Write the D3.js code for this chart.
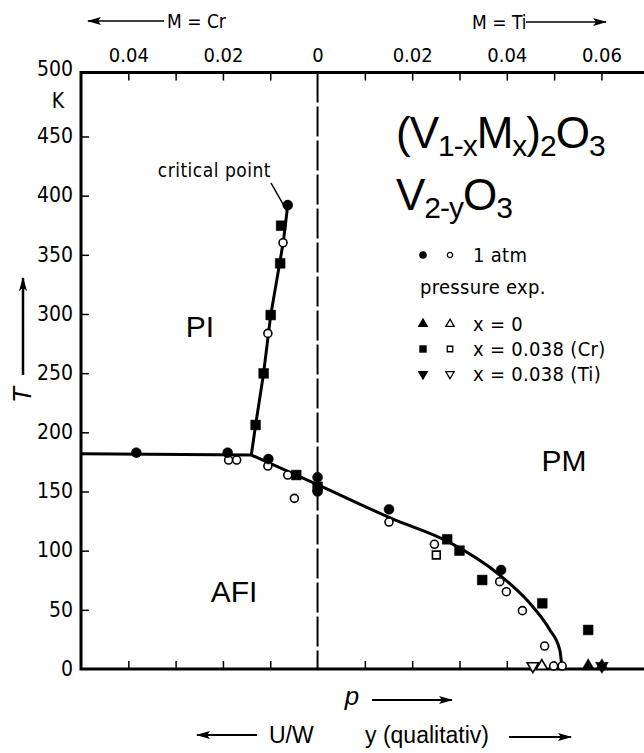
<!DOCTYPE html>
<html>
<head>
<meta charset="utf-8">
<script src="https://cdn.jsdelivr.net/npm/d3@7"></script>
<style>
  body { margin: 0; background: #fff; }
  svg { display: block; }
</style>
</head>
<body>
<svg id="chart" width="644" height="753"></svg>
<script>
// ---- data (x: composition, negative = Cr side, positive = Ti side; T in K)
const xTicks = [-0.04, -0.03, -0.02, -0.01, 0.01, 0.02, 0.03, 0.04, 0.05, 0.06];
const xTickLabels = { "-0.04": "0.04", "-0.02": "0.02", "0": "0", "0.02": "0.02", "0.04": "0.04", "0.06": "0.06" };
const tTicks = [0, 50, 100, 150, 200, 250, 300, 350, 400, 450, 500];

// phase boundaries
const piAfiLine = [[-0.05, 181.8], [-0.014, 180.8]];
const piPmLine = [[-0.014, 180.8], [-0.0131, 206], [-0.0114, 250], [-0.0099, 299],
                  [-0.008, 343], [-0.0072, 362], [-0.0063, 392]];
const afiPmLine = [[-0.014, 180.8], [0, 155.9], [0.0156, 127.3], [0.0276, 107.6],
                   [0.0385, 79.4], [0.0455, 52.6], [0.0491, 33], [0.0512, 16], [0.0517, 0]];

// measurements
const atmFilled = [[-0.0383, 182.8], [-0.019, 182.8], [-0.0104, 177.4], [0, 162],
                   [0, 150], [0.0151, 134.9], [0.0388, 83.6], [-0.0063, 392]];
const atmOpen = [[-0.0188, 176.6], [-0.0171, 176.6], [-0.0105, 171.5], [-0.0063, 163.9],
                 [-0.0049, 144.2], [-0.0073, 360.2], [-0.0105, 283.6], [0.0151, 124.2],
                 [0.0247, 105.4], [0.0385, 73.8], [0.0399, 65.3], [0.0433, 49.3],
                 [0.048, 19.4], [0.0499, 2.5], [0.0517, 2.5]];
const crFilled = [[-0.0077, 374.6], [-0.0079, 342.8], [-0.0099, 299.1], [-0.0114, 249.8],
                  [-0.0131, 206.2], [-0.0045, 163.9], [0, 154], [0.0274, 109.6],
                  [0.03, 100], [0.0348, 75.2], [0.0475, 55.5], [0.0572, 33]];
const crOpen = [[0.0251, 96.3]];
const x0Filled = [[0.0572, 2.5], [0.0601, 2.5]];
const x0Open = [[0.0474, 2.5]];
const tiFilled = [[0.0601, 2.5]];
const tiOpen = [[0.0455, 2.5]];

const legendRows = [
  { shape: "circle", text: "1 atm" },
  { shape: null, text: "pressure exp." },
  { shape: "triangle", text: "x = 0" },
  { shape: "square", text: "x = 0.038 (Cr)" },
  { shape: "down", text: "x = 0.038 (Ti)" }
];

// ---- layout
const svg = d3.select("#chart");
const narrow = "'DejaVu Sans Condensed', 'Liberation Sans Narrow', sans-serif";
const sans = "'Liberation Sans', Arial, sans-serif";

const x = d3.scaleLinear().domain([-0.05, 0.069]).range([81, 644]);
const y = d3.scaleLinear().domain([0, 500]).range([669, 77.3]);
const yTop = y(504);

// frame
svg.append("path")
  .attr("d", `M${x(0.069)},${yTop}H${x(-0.05)}V${y(0)}H${x(0.069)}`)
  .attr("fill", "none").attr("stroke", "#000").attr("stroke-width", 3);

// left axis
const gy = svg.append("g").attr("transform", `translate(${x(-0.05)},0)`)
  .call(d3.axisLeft(y).tickValues(tTicks).tickSize(-8).tickPadding(8));
gy.select(".domain").remove();
gy.selectAll(".tick line").attr("stroke-width", 1.5)
  .filter(d => d === 0 || d === 500).remove();
gy.selectAll("text").attr("font-family", narrow).attr("font-size", 21).attr("fill", "#000")
  .attr("dy", d => d === 500 ? "-0.1em" : "0.3em");

// top axis
const gt = svg.append("g").attr("transform", `translate(0,${yTop})`)
  .call(d3.axisTop(x).tickValues(xTicks.concat([0])).tickSize(-8).tickPadding(11)
    .tickFormat(d => xTickLabels[String(+d.toFixed(2))] || ""));
gt.select(".domain").remove();
gt.selectAll(".tick line").attr("stroke-width", 1.5).filter(d => d === 0).remove();
gt.selectAll("text").attr("font-family", narrow).attr("font-size", 20).attr("fill", "#000");

// bottom axis
const gb = svg.append("g").attr("transform", `translate(0,${y(0)})`)
  .call(d3.axisBottom(x).tickValues(xTicks).tickSize(-8).tickFormat(""));
gb.select(".domain").remove();
gb.selectAll(".tick line").attr("stroke-width", 1.5);

// dashed x = 0 line
svg.append("line")
  .attr("x1", x(0)).attr("x2", x(0)).attr("y1", yTop).attr("y2", y(0))
  .attr("stroke", "#000").attr("stroke-width", 2).attr("stroke-dasharray", "30,4");

// boundaries
const line = d3.line().x(d => x(d[0])).y(d => y(d[1]));
[piAfiLine, piPmLine].forEach(ln => {
  svg.append("path").datum(ln).attr("d", line)
    .attr("fill", "none").attr("stroke", "#000").attr("stroke-width", 3);
});
svg.append("path").datum(afiPmLine).attr("d", line.curve(d3.curveMonotoneX))
  .attr("fill", "none").attr("stroke", "#000").attr("stroke-width", 3);

// markers
const sym = {
  circle: d3.symbol(d3.symbolCircle, 78),
  openCircle: d3.symbol(d3.symbolCircle, 50),
  square: d3.symbol(d3.symbolSquare, 96),
  openSquare: d3.symbol(d3.symbolSquare, 60),
  triangle: d3.symbol(d3.symbolTriangle, 70),
  openTriangle: d3.symbol(d3.symbolTriangle, 55)
};
function drawPoints(data, gen, filled, rot) {
  svg.append("g").selectAll("path").data(data).join("path")
    .attr("transform", d => `translate(${x(d[0])},${y(d[1])})${rot ? " rotate(180)" : ""}`)
    .attr("d", gen)
    .attr("fill", filled ? "#000" : "#fff")
    .attr("stroke", "#000").attr("stroke-width", filled ? 0.5 : 1.6);
}
drawPoints(atmOpen, sym.openCircle, false);
drawPoints(crOpen, sym.openSquare, false);
drawPoints(x0Open, sym.openTriangle, false);
drawPoints(tiOpen, sym.openTriangle, false, true);
drawPoints(atmFilled, sym.circle, true);
drawPoints(crFilled, sym.square, true);
drawPoints(x0Filled, sym.triangle, true);
drawPoints(tiFilled, sym.triangle, true, true);

// critical point label
svg.append("line").attr("x1", 271).attr("y1", 183).attr("x2", x(-0.0066)).attr("y2", y(388))
  .attr("stroke", "#000").attr("stroke-width", 1.5);
svg.append("text").attr("x", 271).attr("y", 177).attr("text-anchor", "end")
  .attr("font-family", narrow).attr("font-size", 19).attr("letter-spacing", 0.5)
  .text("critical point");

// phase labels
[["PI", 200, 337], ["PM", 564, 471], ["AFI", 234, 602]].forEach(([t, px, py]) => {
  svg.append("text").attr("x", px).attr("y", py).attr("text-anchor", "middle")
    .attr("font-family", sans).attr("font-size", 30).text(t);
});

// formula
function formula(parts, px, py) {
  const t = svg.append("text").attr("x", px).attr("y", py)
    .attr("font-family", sans).attr("letter-spacing", -1);
  let sub = false;
  parts.forEach(([s, isSub]) => {
    const dy = isSub === sub ? 0 : (isSub ? 8 : -8);
    t.append("tspan").attr("dy", dy).attr("font-size", isSub ? 30 : 44).text(s);
    sub = isSub;
  });
}
formula([["(V", false], ["1-x", true], ["M", false], ["x", true], [")", false], ["2", true], ["O", false], ["3", true]], 396, 148);
formula([["V", false], ["2-y", true], ["O", false], ["3", true]], 396, 210);

// legend
const legendY = [255, 287, 324, 349, 374];
legendRows.forEach((r, i) => {
  const ly = legendY[i];
  if (r.shape) {
    const rot = r.shape === "down" ? " rotate(180)" : "";
    const base = r.shape === "circle" ? [d3.symbolCircle, 45, 22] :
                 r.shape === "square" ? [d3.symbolSquare, 55, 30] : [d3.symbolTriangle, 50, 30];
    svg.append("path").attr("transform", `translate(423,${ly})${rot}`)
      .attr("d", d3.symbol(base[0], base[1])).attr("fill", "#000");
    svg.append("path").attr("transform", `translate(450,${ly})${rot}`)
      .attr("d", d3.symbol(base[0], base[2])).attr("fill", "#fff")
      .attr("stroke", "#000").attr("stroke-width", 1.3);
  }
  svg.append("text").attr("x", r.shape ? 473 : 420).attr("y", ly).attr("dy", "0.36em")
    .attr("font-family", narrow).attr("font-size", 20).attr("letter-spacing", 0.3)
    .text(r.text);
});

// arrows and axis titles
svg.append("defs").append("marker").attr("id", "ah")
  .attr("viewBox", "0 0 14 8").attr("refX", 13).attr("refY", 4)
  .attr("markerWidth", 15).attr("markerHeight", 8).attr("markerUnits", "userSpaceOnUse")
  .attr("orient", "auto")
  .append("path").attr("d", "M0,0L14,4L0,8L3,4Z").attr("fill", "#000");
function arrow(x1, y1, x2, y2, w) {
  svg.append("line").attr("x1", x1).attr("y1", y1).attr("x2", x2).attr("y2", y2)
    .attr("stroke", "#000").attr("stroke-width", w || 1.5).attr("marker-end", "url(#ah)");
}
arrow(164, 21, 88, 21);
svg.append("text").attr("x", 167).attr("y", 21).attr("dy", "0.36em")
  .attr("font-family", narrow).attr("font-size", 19).text("M = Cr");
svg.append("text").attr("x", 472).attr("y", 22).attr("dy", "0.36em")
  .attr("font-family", narrow).attr("font-size", 19).text("M = Ti");
arrow(526, 22, 606, 22);

svg.append("text").attr("x", 58).attr("y", 100).attr("dy", "0.36em").attr("text-anchor", "middle")
  .attr("font-family", narrow).attr("font-size", 21).text("K");

arrow(23, 375, 23, 278, 2.5);
svg.append("text").attr("transform", "translate(31,395) rotate(-90)").attr("text-anchor", "middle")
  .attr("font-family", sans).attr("font-style", "italic").attr("font-size", 26).text("T");

svg.append("text").attr("x", 352).attr("y", 705).attr("text-anchor", "middle")
  .attr("font-family", sans).attr("font-style", "italic").attr("font-size", 26).text("p");
arrow(372, 700, 452, 700, 2);
arrow(257, 735, 197, 735, 2.2);
svg.append("text").attr("x", 269).attr("y", 743)
  .attr("font-family", sans).attr("font-size", 23).text("U/W");
svg.append("text").attr("x", 365).attr("y", 743)
  .attr("font-family", sans).attr("font-size", 23).text("y (qualitativ)");
arrow(509, 737, 571, 737, 2.2);
</script>
</body>
</html>
